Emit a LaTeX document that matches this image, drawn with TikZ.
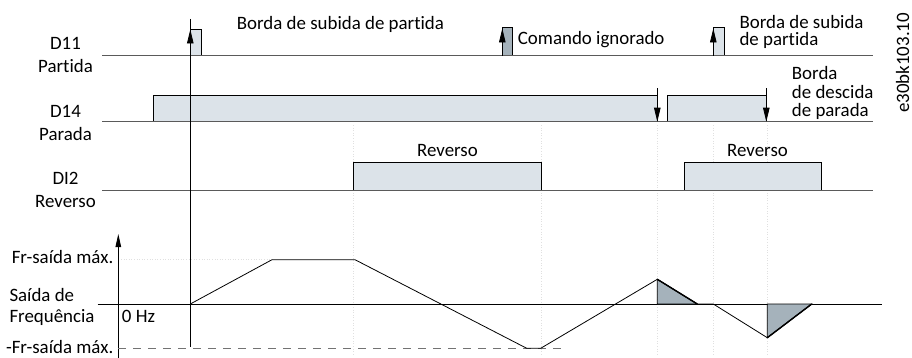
\documentclass[tikz,border=0pt]{standalone}
\usepackage{fontspec}
\setmainfont{Carlito}[Ligatures={NoCommon}]
\usetikzlibrary{arrows.meta}
\definecolor{boxfill}{HTML}{DCE3E9}
\definecolor{pulsedark}{HTML}{A5B2BB}
\definecolor{baseln}{HTML}{5A5A5A}
\begin{document}
\begin{tikzpicture}[x=1pt,y=-1pt,
  font=\fontsize{18.9}{18.9}\selectfont,
  baseline/.style={draw=baseln, line width=0.9pt},
  sigbox/.style={draw=black, line width=0.8pt, fill=boxfill},
  darkbox/.style={draw=black, line width=0.8pt, fill=pulsedark},
  edgearrow/.style={line width=0.8pt, -{Triangle[length=14pt,width=6.5pt]}},
  axisarrow/.style={line width=0.8pt, -{Triangle[length=13pt,width=5.5pt]}},
  guide/.style={draw=black!12, dotted, line width=0.6pt},
  lbl/.style={inner sep=0pt, anchor=base west},
  sidelbl/.style={inner sep=0pt, anchor=base, align=center},
  trace/.style={draw=black, line width=0.8pt, line join=miter}]
\useasboundingbox (0,0) rectangle (912,358);

% faint guide lines
\foreach \gx in {353.3,541.7,657.3,713.3,767.3}
  \draw[guide] (\gx,125) -- (\gx,355);
\draw[guide] (118.3,259.7) -- (272,259.7);

% signal boxes
\draw[sigbox] (190.3,55.7) rectangle (201,29);
\draw[darkbox] (502.3,55.7) rectangle (512,27.7);
\draw[sigbox] (713.3,55.7) rectangle (724.3,27.7);
\draw[sigbox] (153,121.7) rectangle (657.3,95.7);
\draw[sigbox] (667.3,121.7) rectangle (766,95.7);
\draw[sigbox] (353.3,190) rectangle (541.7,162.3);
\draw[sigbox] (684.3,190) rectangle (821.7,162.3);

% baselines
\coordinate (b1s) at (102,55.7);  \coordinate (b1e) at (872.7,55.7);
\coordinate (b2s) at (102,121.7); \coordinate (b2e) at (872.7,121.7);
\coordinate (b3s) at (102,190);   \coordinate (b3e) at (872.7,190);
\coordinate (zs) at (97.7,304);   \coordinate (ze) at (882.3,304);
\draw[baseline] (b1s) -- (b1e);
\draw[baseline] (b2s) -- (b2e);
\draw[baseline] (b3s) -- (b3e);
\draw[line width=0.9pt] (zs) -- (ze);

% main vertical reference line
\coordinate (vt) at (190.3,19);
\coordinate (vb) at (190.3,346.7);
\draw[line width=0.8pt] (vt) -- (vb);

% edge arrows
\coordinate (a1s) at (190.3,55.7); \coordinate (a1e) at (190.3,29.5);
\coordinate (a2s) at (502.3,55.7); \coordinate (a2e) at (502.3,28.5);
\coordinate (a3s) at (713.3,55.7); \coordinate (a3e) at (713.3,28.5);
\coordinate (d1s) at (657.3,88.3); \coordinate (d1e) at (657.3,121.7);
\coordinate (d2s) at (766.3,88.3); \coordinate (d2e) at (766.3,121.7);
\draw[edgearrow] (a1s) -- (a1e);
\draw[edgearrow] (a2s) -- (a2e);
\draw[edgearrow] (a3s) -- (a3e);
\draw[edgearrow] (d1s) -- (d1e);
\draw[edgearrow] (d2s) -- (d2e);

% frequency axis
\coordinate (fa0) at (118.3,358);
\coordinate (fa1) at (118.3,234);
\draw[axisarrow] (fa0) -- (fa1);

% negative max dashed line
\coordinate (n0) at (118.3,348.3);
\coordinate (n1) at (561.7,348.3);
\draw[draw=black!55, line width=0.9pt, dash pattern=on 8pt off 7pt] (n0) -- (n1);

% shaded triangles
\draw[darkbox, line join=miter] (657.3,279.3) -- (657.3,304) -- (697.3,304) -- cycle;
\draw[darkbox, line join=miter] (767.3,337.7) -- (767.3,304) -- (811.7,304) -- cycle;
\draw[line width=1.4pt] (657.3,279.3) -- (697.3,304);
\draw[line width=1.4pt] (767.3,337.7) -- (811.7,304);

% frequency trace
\draw[trace] (190.3,304) -- (272,259.7) -- (355,259.7) -- (526.7,348.3)
  -- (540.7,348.3) -- (657.3,279.3) -- (697.3,304) -- (713.3,304)
  -- (767.3,337.7) -- (811.7,304);

% left labels
\node[sidelbl] (l11) at (65.5,50) {D11};
\node[sidelbl] (l11b) at (65.5,73) {Partida};
\node[sidelbl] (l14) at (65.5,117.7) {D14};
\node[sidelbl] (l14b) at (65.5,140.5) {Parada};
\node[sidelbl] (l2) at (65.5,185) {DI2};
\node[sidelbl] (l2b) at (65.5,207.7) {Reverso};

\node[inner sep=0pt, anchor=base east] (fmax) at (113.5,263) {Fr-saída máx.};
\node[lbl] (fs1) at (9.3,301.7) {Saída de};
\node[lbl] (fs2) at (9.3,322.7) {Frequência};
\node[lbl] (hz) at (121.7,322.7) {0 Hz};
\node[inner sep=0pt, anchor=base east] (fmin) at (113.5,353.3) {-Fr-saída máx.};

% annotations
\node[lbl] (t1) at (236.7,29.5) {Borda de subida de partida};
\node[lbl] (t2) at (517.7,45) {Comando ignorado};
\node[lbl] (t3) at (739.3,28.3) {Borda de subida};
\node[lbl] (t3b) at (739.3,45.7) {de partida};
\node[lbl] (t4) at (791.7,80) {Borda};
\node[lbl] (t4b) at (791.7,98.7) {de descida};
\node[lbl] (t4c) at (791.7,116.7) {de parada};
\node[sidelbl] (r1) at (447.5,157) {Reverso};
\node[sidelbl] (r2) at (757.5,157) {Reverso};

\node[inner sep=0pt, anchor=base west, rotate=90] (code) at (909,113) {e30bk103.10};
\end{tikzpicture}
\end{document}
